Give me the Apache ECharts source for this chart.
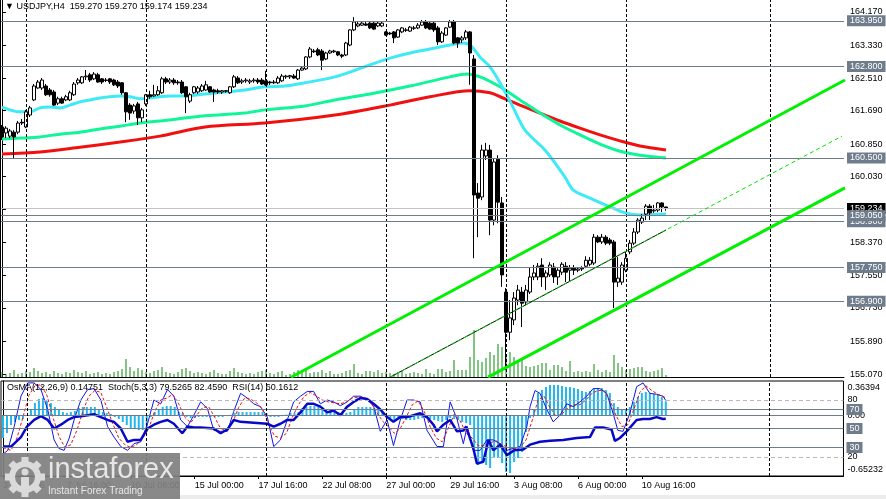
<!DOCTYPE html>
<html><head><meta charset="utf-8">
<script src="https://cdn.jsdelivr.net/npm/echarts@6/dist/echarts.min.js"></script>
<style>html,body{margin:0;padding:0;background:#fff}#c{width:886px;height:499px}</style>
</head><body><div id="c"></div><script>
const symbolTitle = '\u25BC USDJPY,H4  159.270 159.270 159.174 159.234';
const indicatorTitle = 'OsMA(12,26,9) 0.14751  Stoch(5,3,3) 79.5265 82.4590  RSI(14) 60.1612';
const slotCount = 211;
// [open, close, low, high]
const candles = [
[161.28,161.03,160.95,161.33],[161.13,161.25,161.00,161.30],[161.05,161.18,161.00,161.23],[161.15,161.03,160.50,161.20],[161.15,161.38,161.10,161.43],
[161.40,161.38,161.33,161.48],[161.28,161.66,161.25,161.71],[161.58,161.76,161.53,161.81],[161.96,162.31,161.93,162.36],[162.26,162.41,162.24,162.46],
[162.26,162.46,162.21,162.51],[162.31,162.09,162.06,162.36],[162.21,162.09,162.04,162.26],[162.16,161.83,161.81,162.21],[161.88,161.99,161.83,162.04],
[161.99,161.88,161.86,162.04],[161.96,162.04,161.93,162.09],[161.96,162.14,161.93,162.19],[162.09,162.36,162.06,162.41],[162.39,162.46,162.34,162.51],
[162.39,162.54,162.36,162.56],[162.54,162.56,162.46,162.71],[162.59,162.46,162.41,162.64],[162.49,162.61,162.46,162.66],[162.59,162.41,162.39,162.64],
[162.49,162.41,162.36,162.51],[162.46,162.45,162.41,162.51],[162.49,162.41,162.36,162.51],[162.46,162.34,162.31,162.49],[162.41,162.31,162.26,162.46],
[162.39,162.14,162.09,162.41],[162.14,161.66,161.40,162.16],[161.83,161.63,161.46,161.88],[161.68,161.81,161.61,161.86],[161.86,161.51,161.33,161.91],
[161.51,161.71,161.40,161.76],[161.86,162.09,161.81,162.11],[162.09,162.04,161.99,162.19],[162.06,162.09,162.04,162.34],[162.09,162.19,162.06,162.31],
[162.14,162.49,162.11,162.54],[162.49,162.41,162.36,162.54],[162.41,162.46,162.36,162.51],[162.46,162.39,162.34,162.51],[162.41,162.39,162.34,162.46],
[162.41,162.14,162.11,162.46],[162.29,162.04,161.63,162.31],[161.93,162.09,161.88,162.14],[162.14,162.29,162.11,162.31],[162.16,162.26,162.11,162.31],
[162.19,162.31,162.16,162.36],[162.21,162.34,162.19,162.44],[162.29,162.16,162.14,162.31],[162.21,162.16,161.91,162.24],[162.19,162.16,162.11,162.24],
[162.16,162.19,162.11,162.21],[162.19,162.18,162.14,162.21],[162.14,162.29,162.11,162.31],[162.29,162.54,162.26,162.59],[162.51,162.39,162.36,162.56],
[162.41,162.44,162.36,162.49],[162.44,162.46,162.39,162.51],[162.41,162.44,162.36,162.49],[162.44,162.46,162.39,162.51],[162.46,162.41,162.36,162.51],
[162.46,162.36,162.34,162.51],[162.44,162.34,162.31,162.69],[162.41,162.39,162.34,162.44],[162.39,162.41,162.36,162.46],[162.39,162.51,162.36,162.56],
[162.44,162.56,162.41,162.61],[162.54,162.56,162.49,162.59],[162.54,162.57,162.49,162.59],[162.56,162.51,162.49,162.61],[162.49,162.71,162.46,162.74],
[162.71,162.76,162.69,162.81],[162.74,163.04,162.71,163.06],[163.04,163.24,163.01,163.29],[163.19,163.17,163.14,163.24],[163.22,163.09,163.06,163.27],
[163.19,162.96,162.71,163.24],[162.99,163.14,162.96,163.17],[163.14,163.19,163.12,163.22],[163.17,163.19,163.14,163.22],[163.17,163.09,163.06,163.19],
[163.09,163.06,163.01,163.12],[163.09,163.39,163.06,163.42],[163.34,163.72,163.31,163.74],[163.72,163.92,163.69,164.04],[163.82,163.87,163.79,163.92],
[163.84,163.89,163.82,163.94],[163.87,163.84,163.82,163.92],[163.89,163.77,163.74,163.92],[163.89,163.74,163.72,163.92],[163.82,163.89,163.79,163.92],
[163.82,163.89,163.79,163.94],[163.67,163.59,163.57,163.69],[163.64,163.62,163.59,163.67],[163.67,163.52,163.39,163.69],[163.54,163.72,163.52,163.74],
[163.67,163.77,163.64,163.79],[163.72,163.71,163.67,163.77],[163.69,163.79,163.67,163.82],[163.77,163.76,163.72,163.82],[163.77,163.84,163.74,163.89],
[163.84,163.92,163.82,163.97],[163.92,163.77,163.74,163.97],[163.89,163.74,163.72,163.94],[163.89,163.72,163.67,163.92],[163.77,163.42,163.34,163.82],
[163.42,163.64,163.39,163.69],[163.59,163.77,163.57,163.79],[163.79,163.92,163.77,163.97],[163.92,163.39,163.36,163.97],[163.52,163.39,163.27,163.54],
[163.47,163.52,163.39,163.57],[163.52,163.67,163.47,163.72],[163.67,163.14,162.34,163.69],[162.99,159.57,157.98,163.09],[159.62,159.49,158.51,159.87],
[159.52,160.70,159.44,160.83],[160.55,160.70,160.45,160.88],[160.70,158.94,158.56,160.83],[158.94,160.40,158.81,160.50],[160.47,159.39,158.86,160.57],
[159.37,157.56,157.26,159.52],[157.13,156.12,155.17,157.23],[156.12,156.48,155.92,156.93],[156.43,156.98,156.30,157.13],[156.93,157.18,156.80,157.31],
[157.13,156.85,156.25,157.26],[156.88,157.18,156.80,157.31],[157.13,157.51,157.08,157.76],[157.51,157.61,157.43,157.81],[157.51,157.78,157.43,157.86],
[157.81,157.51,157.26,157.98],[157.51,157.61,157.18,157.68],[157.56,157.81,157.51,157.88],[157.76,157.51,157.36,157.86],[157.51,157.68,157.31,157.73],
[157.63,157.83,157.56,157.88],[157.78,157.63,157.38,157.88],[157.68,157.73,157.38,157.81],[157.73,157.68,157.56,157.81],[157.68,157.71,157.63,157.76],
[157.71,157.73,157.66,157.78],[157.78,157.93,157.73,158.03],[157.83,157.93,157.78,158.01],[157.86,158.51,157.81,158.59],[158.51,158.39,158.36,158.56],
[158.39,158.51,158.34,158.59],[158.51,158.36,158.31,158.56],[158.44,158.36,158.31,158.49],[158.39,157.38,156.73,158.44],[157.38,157.48,157.26,158.01],
[157.38,157.81,157.31,157.88],[157.68,157.98,157.63,158.14],[158.14,158.36,158.08,158.44],[158.36,158.64,158.31,158.74],[158.64,158.94,158.59,158.99],
[158.89,158.99,158.84,159.09],[159.09,159.29,158.94,159.34],[159.29,159.12,158.94,159.34],[159.17,159.19,159.12,159.32],[159.19,159.37,159.14,159.39],
[159.37,159.27,159.14,159.39],[159.270,159.234,159.174,159.270]
];
const volumes = [
500,300,400,700,300,400,600,500,900,600, 400,500,300,600,400,300,500,400,700,500,
400,600,300,400,500,300,400,300,500,600, 800,1800,1000,600,900,700,500,400,600,700,
1000,500,400,300,500,800,900,600,400,500, 400,300,500,700,400,300,300,600,900,500,
400,300,400,300,500,600,700,400,300,500, 600,200,300,500,700,600,700,400,500,500,
700,400,600,300,300,400,600,700,1300,400, 300,600,600,500,700,400,500,400,300,500,
600,300,400,500,400,300,800,400,300,800, 800,500,600,1700,700,700,700,2000,4700,1700,
1500,1900,2500,2200,3300,3000,2300,2500,2000,1500, 1700,1100,1000,1100,1200,1400,1400,700,1200,1200,
1000,600,1600,500,600,500,600,500,1300,700, 500,700,500,2200,1400,1000,700,800,900,1000,
1000,600,500,600,700,900,200
];
// moving averages, read at sampled bars: [bar, price]
const maCyan = [[0,161.78],[4.5,161.66],[7,161.66],[9.5,161.76],[12,161.78],[14.5,161.76],[17,161.83],[19.5,161.91],[22,161.96],[24.5,162.01],[27,162.04],[29.5,162.06],[32,162.04],[34.5,161.99],[37,162.01],[39.5,162.04],[42,162.06],[45.75,162.06],[50.75,162.11],[55.75,162.16],[60.75,162.21],[65.75,162.29],[70.75,162.31],[75.75,162.39],[83.25,162.54],[87,162.66],[92,162.84],[97,163.01],[102,163.14],[107,163.24],[112,163.34],[115.25,163.39],[117,163.34],[119.5,163.04],[122,162.79],[124.5,162.39],[127.5,161.83],[130.75,161.20],[135.75,160.70],[140.75,160.02],[142.75,159.70],[147,159.49],[152,159.27],[155.75,159.12],[159.5,159.07],[166,159.09]];
const maGreen = [[0,160.98],[4.5,161.00],[9.5,161.03],[14.5,161.10],[19.5,161.15],[24.5,161.23],[29.5,161.30],[34.5,161.38],[39.5,161.43],[50.75,161.56],[60.75,161.63],[65.75,161.71],[75.75,161.81],[83.25,161.96],[92,162.11],[102,162.31],[112,162.54],[116.25,162.61],[119.5,162.54],[124.5,162.29],[129.5,161.96],[134.5,161.63],[139.5,161.33],[144.5,161.08],[149.5,160.85],[154.5,160.67],[159.5,160.57],[166,160.50]];
const maRed = [[0,160.60],[9.5,160.65],[19.5,160.77],[29.5,160.90],[39.5,161.05],[50.75,161.28],[65.75,161.38],[83.25,161.58],[97,161.83],[107,162.04],[117,162.19],[122,162.14],[124.5,162.04],[129.5,161.83],[134.5,161.63],[139.5,161.43],[144.5,161.25],[149.5,161.08],[154.5,160.93],[159.5,160.80],[166,160.70]];
// channel (bar, price)
const channelUpper = [[72.25,154.99],[210.75,162.46]];
const channelLower = [[121.5,154.99],[210.75,159.75]];
const channelMid = [[97,154.99],[210,161.05]];
const channelMidDrawn = [[97,154.99],[166,158.69]];
const keyLevels = [158.900,159.050,163.950,162.800,160.500,157.750,156.900];
const lastPrice = 159.234;
const priceTicks = [155.07,155.89,156.73,157.55,158.37,159.21,160.03,160.85,161.69,162.51,163.33,164.17];
const timeTickIndex = [0,16,32,48,64,80,96,112,128,144,160];
const timeTickLabels = ['3 Jul 2026','7 Jul 16:00','10 Jul 08:00','15 Jul 00:00','17 Jul 16:00','22 Jul 08:00','27 Jul 00:00','29 Jul 16:00','3 Aug 08:00','6 Aug 00:00','10 Aug 16:00'];
const separators = [6,36,66,96,126,156,192];
const osma = [
-0.246,-0.193,-0.107,-0.075,-0.054,-0.043,-0.011,0.054,0.128,0.171,
0.182,0.150,0.128,0.086,0.054,0.032,0.021,0.032,0.043,0.075,
0.086,0.086,0.086,0.086,0.064,0.032,0.021,0.011,-0.021,-0.043,
-0.075,-0.107,-0.139,-0.150,-0.161,-0.161,-0.128,-0.021,0.032,0.054,
0.086,0.096,0.096,0.086,0.032,0.021,-0.021,-0.032,-0.032,-0.021,
-0.021,-0.021,-0.021,-0.021,-0.021,-0.021,-0.011,0.002,0.021,0.032,
0.032,0.032,0.032,0.032,0.032,0.032,0.021,-0.021,-0.021,-0.021,
-0.011,0.005,0.021,0.021,0.032,0.075,0.086,0.096,0.096,0.086,
0.086,0.064,0.043,0.043,0.032,0.021,0.021,0.032,0.064,0.086,
0.086,0.086,0.086,0.075,0.064,0.032,0.005,-0.032,-0.054,-0.054,
-0.043,-0.054,-0.054,-0.054,-0.043,-0.032,-0.032,-0.043,-0.054,-0.064,
-0.075,-0.054,-0.032,-0.043,-0.054,-0.075,-0.086,-0.107,-0.353,-0.535,
-0.514,-0.535,-0.567,-0.460,-0.460,-0.514,-0.610,-0.621,-0.503,-0.460,
-0.396,-0.182,-0.032,0.054,0.235,0.268,0.300,0.321,0.321,0.321,
0.310,0.300,0.300,0.289,0.278,0.257,0.246,0.257,0.278,0.289,
0.289,0.268,0.235,0.128,0.086,0.064,0.064,0.086,0.139,0.193,
0.235,0.246,0.235,0.225,0.214,0.193,0.14751
];
const stochMain = [[0,23],[1.2,27],[2.8,52],[4.5,84],[6.2,98],[7.8,98],[9.5,91],[11.2,70],[12.8,38],[14,29],[15.3,27],[16.6,40],[17.8,59],[19.5,80],[21.2,91],[22.8,92],[24.5,80],[26.2,52],[27.8,41],[29.5,31],[31.2,27],[32.8,34],[34.5,36],[36.2,55],[37.8,80],[39.5,76],[41.2,91],[42.8,84],[44.5,59],[46.2,52],[47.8,64],[49.5,78],[51.2,71],[52.8,48],[54.5,47],[56.2,47],[57.8,68],[59.5,87],[61.2,82],[62.8,76],[64.5,73],[66.2,62],[67.8,31],[69.5,38],[71.2,59],[72.8,78],[74.5,84],[76.2,89],[77.8,89],[79.5,76],[81.2,80],[82.8,78],[84.5,74],[86.2,78],[87.8,84],[89.5,84],[91.2,80],[92.8,74],[94.5,47],[96.2,59],[97.8,32],[99.5,59],[101.2,80],[102.8,80],[104.5,78],[106.2,48],[108.7,31],[110.3,31],[112,78],[113.7,60],[115.3,34],[116.25,52],[117.8,27],[119.5,27],[121.2,38],[122.8,38],[124.5,34],[126.2,27],[127.8,29],[129.5,31],[131.2,52],[132,73],[133.25,90],[134.5,87],[136.2,70],[137.8,57],[139.5,64],[141.2,76],[142.8,73],[144.5,78],[146.2,84],[147.8,92],[149.5,92],[151.2,87],[152.8,66],[154,48],[155.3,47],[157,66],[158.7,94],[160.3,98],[162,87],[163.7,86],[165.3,84],[166,79.53]];
const stochSignal = [[0,30],[2,27],[3.5,40],[5,62],[6.5,85],[8,95],[9.5,96],[11,85],[12.5,62],[14,42],[15.5,30],[17,33],[18.5,48],[20,68],[21.5,84],[23,90],[24.5,88],[26,72],[27.5,55],[29,40],[30.5,33],[32,30],[33.5,33],[35,40],[36.5,50],[38,68],[39.5,80],[41,82],[42.5,86],[44,76],[45.5,62],[47,56],[48.5,64],[50,72],[51.5,73],[53,62],[54.5,50],[56,48],[57.5,56],[59,72],[60.5,82],[62,81],[63.5,77],[65,70],[66.5,55],[68,42],[69.5,40],[71,45],[72.5,62],[74,75],[75.5,84],[77,88],[78.5,84],[80,80],[81.5,78],[83,77],[84.5,76],[86,78],[87.5,82],[89,83],[90.5,83],[92,78],[93.5,68],[95,58],[96.5,52],[98,45],[99.5,50],[101,62],[102.5,75],[104,79],[105.5,68],[107,52],[108.5,40],[110,36],[111.5,50],[113,65],[114.5,58],[116,45],[117.5,40],[119,32],[120.5,32],[122,35],[123.5,37],[125,33],[126.5,30],[128,29],[129.5,30],[131,38],[132.5,58],[134,80],[135.5,84],[137,72],[138.5,63],[140,65],[141.5,72],[143,75],[144.5,75],[146,80],[147.5,87],[149,90],[150.5,90],[152,80],[153.5,64],[155,52],[156.5,54],[158,70],[159.5,88],[161,95],[162.5,90],[164,86],[166,82.46]];
const rsi = [[0,31],[2,31],[4.5,41],[6,52],[7.8,59],[9.5,63],[11.2,59],[12.8,50],[14.5,54],[16.2,59],[17.8,62],[19.5,63],[21.2,64],[22.8,65],[24.5,62],[26.2,59],[27.8,57],[29.5,50],[31.2,36],[32.8,38],[34.5,38],[36.2,50],[37.8,54],[39.5,57],[41.2,59],[42.8,55],[44.9,45],[46.2,52],[47.8,51],[49.5,51],[52.8,50],[54.5,45],[56.2,49],[57.8,59],[59.5,57],[62.8,56],[66.2,55],[67.8,52],[69.5,55],[71.2,59],[72.8,59],[74.5,67],[76.2,76],[77.8,76],[79.5,73],[81.2,67],[82.8,69],[84.5,64],[86.2,73],[87.8,78],[89.5,82],[91.2,81],[92.8,76],[94.5,70],[96.2,62],[97.8,57],[99.5,62],[101.2,62],[102.8,64],[104.5,66],[106.2,62],[107.8,54],[108.7,47],[110.3,54],[112,59],[113.7,47],[115.3,48],[116,52],[117.8,29],[118.7,13],[120.3,15],[121.6,38],[122.8,27],[124.5,33],[126.2,22],[128,27],[130.3,28],[132,33],[134.5,36],[137,37],[140.3,38],[143.7,40],[147,41],[148.25,51],[150.3,51],[152.4,49],[153.25,37],[154.5,40],[156.2,47],[158.7,59],[160.3,60],[162,60],[163.7,62],[165.3,60],[166,60.16]];
const stochBands = [80,20];
const rsiLevels = [70,50,30];
const osmaTicks = [0.36394,0,-0.65232];

const FONT = "'Liberation Sans', Arial, sans-serif";
const SLATE = '#6f7c8b';
const slots = Array.from({length: slotCount}, (_, i) => String(i));
const tickAt = {};
timeTickIndex.forEach((k, j) => { tickAt[k] = timeTickLabels[j]; });
const isTick = (idx) => tickAt[idx] !== undefined;

function boxLabel(text, bg) {
  return {show:true, position:'end', distance:3, formatter:text, color:'#ffffff',
    backgroundColor:bg, padding:[1,3,0,3], fontSize:9, fontFamily:FONT, lineHeight:10};
}
function hLevel(v) {
  return {yAxis:v, lineStyle:{color:SLATE, width:1, type:'solid'}, label:boxLabel(v.toFixed(3), SLATE)};
}
const levelData = [hLevel(158.900),
  {yAxis:lastPrice, lineStyle:{color:'#c4c4c4', width:1, type:'solid'}, label:boxLabel(lastPrice.toFixed(3), '#000000')}]
  .concat(keyLevels.filter(v => v !== 158.900).map(hLevel));

const sepLine = {symbol:'none', silent:true, animation:false,
  lineStyle:{color:'#000', width:1, type:[3,2]}, label:{show:false},
  data: separators.map(s => ({xAxis:s}))};

const teeth = [];
for (let k = 0; k < 8; k++) {
  teeth.push({type:'rect', x:25, y:477, rotation:k*Math.PI/4, shape:{x:-3.5,y:-20,width:7,height:7}, style:{fill:'#dadada'}, z:102});
}

function osmaLabel(v) {
  if (v === osmaTicks[0]) return '{top|' + v.toFixed(5) + '}';
  if (v === osmaTicks[2]) return '{bot|' + v.toFixed(5) + '}';
  return '0.00';
}

const option = {
  animation:false,
  backgroundColor:'#ffffff',
  textStyle:{fontFamily:FONT},
  grid:[
    {left:0, right:42, top:0, height:377, show:false},
    {left:0, right:42, top:381, height:95, show:true, borderColor:'#000', borderWidth:1, backgroundColor:'transparent'}
  ],
  xAxis:[
    {type:'category', gridIndex:0, data:slots, boundaryGap:true,
      axisLine:{show:true, onZero:false, lineStyle:{color:'#000', width:1}}, axisTick:{show:false}, axisLabel:{show:false}, splitLine:{show:false}},
    {type:'value', gridIndex:0, min:-0.5, max:slotCount-0.5, show:false},
    {type:'category', gridIndex:1, data:slots, boundaryGap:true,
      axisLine:{show:true, onZero:false, lineStyle:{color:'#000', width:1}},
      axisTick:{show:true, alignWithLabel:true, interval:isTick, length:3, lineStyle:{color:'#000'}},
      axisLabel:{show:true, interval:isTick, formatter:(v) => tickAt[Number(v)] || '', align:'left',
        color:'#000', fontSize:9, fontFamily:FONT, margin:5},
      splitLine:{show:false}},
    {type:'value', gridIndex:1, min:-0.5, max:slotCount-0.5, show:false}
  ],
  yAxis:[
    {type:'value', gridIndex:0, position:'right', min:154.995, max:164.472, scale:true,
      axisLine:{show:true, lineStyle:{color:'#000', width:1}},
      axisTick:{show:true, length:4, customValues:priceTicks, lineStyle:{color:'#000'}},
      axisLabel:{show:true, customValues:priceTicks, formatter:(v) => v.toFixed(3), color:'#000', fontSize:9, fontFamily:FONT, margin:6},
      splitLine:{show:false}},
    {type:'value', gridIndex:0, min:0, max:37700, show:false},
    {type:'value', gridIndex:1, position:'right', min:0, max:100,
      axisLine:{show:true, lineStyle:{color:'#000', width:1}},
      axisTick:{show:false},
      axisLabel:{show:true, customValues:stochBands, color:'#000', fontSize:9, fontFamily:FONT, margin:4},
      splitLine:{show:false}},
    {type:'value', gridIndex:1, position:'right', min:-0.65232, max:0.36394,
      axisLine:{show:false}, axisTick:{show:false},
      axisLabel:{show:true, customValues:osmaTicks, formatter:osmaLabel,
        color:'#000', fontSize:9, fontFamily:FONT, margin:4,
        rich:{top:{padding:[13,0,0,0], fontSize:9, color:'#000', fontFamily:FONT},
              bot:{padding:[0,0,13,0], fontSize:9, color:'#000', fontFamily:FONT}}},
      splitLine:{show:false}}
  ],
  series:[
    {type:'bar', name:'volume', xAxisIndex:0, yAxisIndex:1, data:volumes, barWidth:1, itemStyle:{color:'#0a8a0a'}, silent:true, z:1},
    {type:'line', name:'MA red', xAxisIndex:1, yAxisIndex:0, data:maRed, showSymbol:false, smooth:0.3,
      lineStyle:{color:'#f01010', width:3}, silent:true, z:2, markLine:sepLine},
    {type:'line', name:'MA green', xAxisIndex:1, yAxisIndex:0, data:maGreen, showSymbol:false, smooth:0.3,
      lineStyle:{color:'#10f59a', width:3}, silent:true, z:2},
    {type:'line', name:'MA cyan', xAxisIndex:1, yAxisIndex:0, data:maCyan, showSymbol:false, smooth:0.3,
      lineStyle:{color:'#3eeaf6', width:3}, silent:true, z:2},
    {type:'candlestick', name:'USDJPY', xAxisIndex:0, yAxisIndex:0, data:candles, barWidth:3, z:4,
      itemStyle:{color:'#ffffff', color0:'#000000', borderColor:'#000000', borderColor0:'#000000', borderWidth:1},
      markLine:{symbol:'none', silent:true, animation:false, data:levelData}},
    {type:'line', name:'channel upper', xAxisIndex:1, yAxisIndex:0, data:channelUpper, showSymbol:false,
      lineStyle:{color:'#00f000', width:3}, silent:true, z:5},
    {type:'line', name:'channel lower', xAxisIndex:1, yAxisIndex:0, data:channelLower, showSymbol:false,
      lineStyle:{color:'#00f000', width:3}, silent:true, z:5},
    {type:'line', name:'channel mid base', xAxisIndex:1, yAxisIndex:0, data:channelMidDrawn, showSymbol:false,
      lineStyle:{color:'#000000', width:1}, silent:true, z:5},
    {type:'line', name:'channel mid', xAxisIndex:1, yAxisIndex:0, data:channelMid, showSymbol:false,
      lineStyle:{color:'#00e000', width:1, type:[4,3]}, silent:true, z:6},
    {type:'bar', name:'OsMA', xAxisIndex:2, yAxisIndex:3, data:osma, barWidth:2, itemStyle:{color:'#22b8ee'}, silent:true, z:1,
      markLine:{symbol:'none', silent:true, animation:false, label:{show:false},
        data:[{yAxis:0, lineStyle:{color:SLATE, width:1, type:'solid'}}]}},
    {type:'line', name:'Stoch', xAxisIndex:3, yAxisIndex:2, data:stochMain, showSymbol:false,
      lineStyle:{color:'#1414e6', width:1}, silent:true, z:3,
      markLine:{symbol:'none', silent:true, animation:false,
        data: stochBands.map(v => ({yAxis:v, lineStyle:{color:'#b8b8b8', width:1, type:[4,3]}, label:{show:false}}))
          .concat(rsiLevels.map(v => ({yAxis:v, lineStyle:{color:SLATE, width:1, type:'solid'}, label:boxLabel(String(v), SLATE)})))}},
    {type:'line', name:'Signal', xAxisIndex:3, yAxisIndex:2, data:stochSignal, showSymbol:false,
      lineStyle:{color:'#f01010', width:1, type:[3,2]}, silent:true, z:3},
    {type:'line', name:'RSI', xAxisIndex:3, yAxisIndex:2, data:rsi, showSymbol:false,
      lineStyle:{color:'#0808c8', width:2.5}, silent:true, z:4, markLine:sepLine}
  ],
  graphic:[
    {type:'line', shape:{x1:0.5,y1:0,x2:0.5,y2:377}, style:{stroke:'#000', lineWidth:1}, z:50},
    {type:'rect', shape:{x:0,y:495,width:886,height:4}, style:{fill:'#ececec'}, z:50},
    {type:'text', x:5, y:2, style:{text:symbolTitle, fill:'#000', fontSize:9, fontFamily:FONT, verticalAlign:'top'}, z:60},
    {type:'text', x:7, y:383, style:{text:indicatorTitle, fill:'#000', fontSize:9, fontFamily:FONT, verticalAlign:'top'}, z:60},
    {type:'rect', shape:{x:0,y:453,width:180,height:46}, style:{fill:'rgba(128,128,128,0.93)'}, z:100},
    {type:'circle', shape:{cx:25, cy:477, r:13}, style:{fill:'none', stroke:'#dadada', lineWidth:6}, z:101},
    ...teeth,
    {type:'circle', shape:{cx:25, cy:472, r:3.5}, style:{fill:'#dadada'}, z:102},
    {type:'rect', shape:{x:21, y:477, width:8, height:10}, style:{fill:'#dadada'}, z:102},
    {type:'text', x:48, y:455, style:{text:'instaforex', fill:'#e6e6e6', fontSize:29, fontFamily:FONT, verticalAlign:'top'}, z:103},
    {type:'text', x:48, y:486, style:{text:'Instant Forex Trading', fill:'#e6e6e6', fontSize:10, fontFamily:FONT, verticalAlign:'top'}, z:103}
  ]
};
const chart = echarts.init(document.getElementById('c'), null, {renderer:'canvas', width:886, height:499});
chart.setOption(option);
</script></body></html>
